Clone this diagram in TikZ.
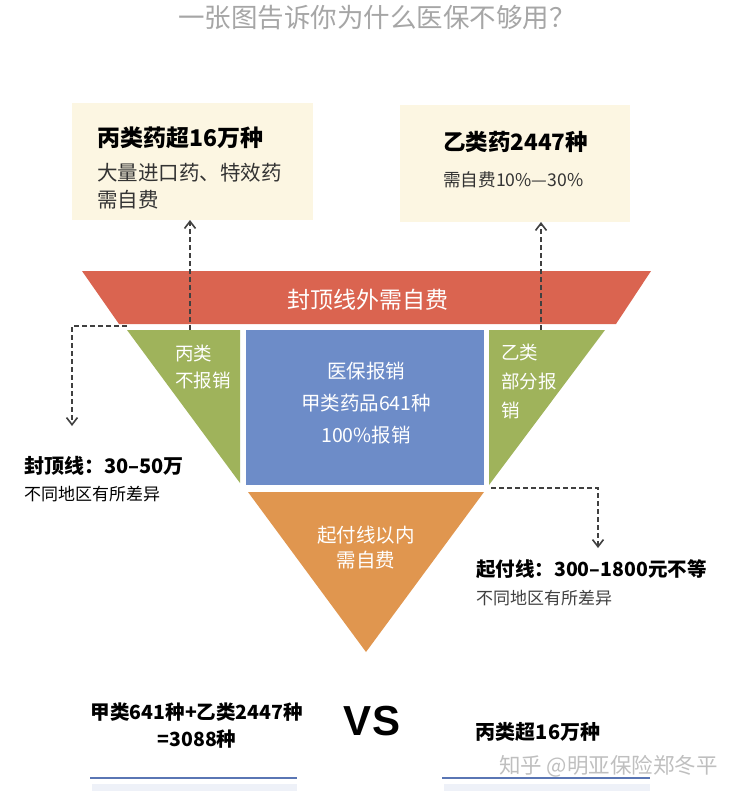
\documentclass[tikz,border=0pt]{standalone}
\usepackage{fontspec}
\setmainfont{Noto Sans CJK SC}
\newfontfamily\cjk{Noto Sans CJK SC}
\newfontfamily\vsfont{Liberation Sans}
\usetikzlibrary{arrows.meta}
\definecolor{cred}{HTML}{DA6450}
\definecolor{cgreen}{HTML}{9FB35B}
\definecolor{cblue}{HTML}{6D8CC8}
\definecolor{corange}{HTML}{E0964F}
\definecolor{cbeige}{HTML}{FCF6E2}
\definecolor{cdash}{HTML}{404040}
\definecolor{cline}{HTML}{5A76B4}
\tikzset{
  fs/.style={font=\fontsize{#1}{#1}\selectfont},
  bfs/.style={font=\bfseries\fontsize{#1}{#1}\selectfont},
  boxbg/.style={fill=cbeige, draw=none},
  wtxt/.style={text=white, inner sep=0pt},
  btxt/.style={text=black, inner sep=0pt},
  dashline/.style={draw=cdash, line width=1.8pt, dash pattern=on 5pt off 3pt, -{Straight Barb[angle=75:9pt, line width=1.6pt]}},
}
\begin{document}
\begin{tikzpicture}[x=1pt,y=-1pt]
\useasboundingbox (0,0) rectangle (736,796);
% title
\node[fs=26.5, text=black!35, inner sep=0pt] (title) at (377,18) {一张图告诉你为什么医保不够用？};
% top boxes
\fill[boxbg] (72,103) rectangle (313,220);
\coordinate (lboxb) at (190,220);
\node[btxt, anchor=west, bfs=23] (lh) at (97,138) {丙类药超16万种};
\node[fs=20.5, btxt, anchor=west, text=black!80] (l1) at (97,173) {大量进口药、特效药};
\node[fs=20.5, btxt, anchor=west, text=black!80] (l2) at (97,200) {需自费};
\fill[boxbg] (400,105) rectangle (630,222);
\coordinate (rboxb) at (541,222);
\node[btxt, anchor=west, bfs=22.5] (rh) at (443,142) {乙类药2447种};
\node[fs=17.6, btxt, anchor=west, text=black!80] (r1) at (443,180) {需自费10\%—30\%};
% red trapezoid
\fill[cred] (82,271) -- (651,271) -- (616,324) -- (119,324) -- cycle;
\node[fs=23, wtxt] (red) at (368,300) {封顶线外需自费};
% green left
\fill[cgreen] (127,330) -- (240,330) -- (240,483) -- cycle;
\node[fs=18.5, wtxt, anchor=west] (g1) at (175,353) {丙类};
\node[fs=18.5, wtxt, anchor=west] (g2) at (175,380) {不报销};
% blue rect
\fill[cblue] (246,330) rectangle (484,485);
\node[fs=19.5, wtxt] (b1) at (366,371) {医保报销};
\node[fs=19.5, wtxt] (b2) at (366,403) {甲类药品641种};
\node[fs=19.5, wtxt] (b3) at (366,435) {100\%报销};
% green right
\fill[cgreen] (489,330) -- (605,330) -- (489,485) -- cycle;
\node[fs=18.5, wtxt, anchor=west] (h1) at (501,352) {乙类};
\node[fs=18.5, wtxt, anchor=west] (h2) at (501,381) {部分报};
\node[fs=18.5, wtxt, anchor=west] (h3) at (501,410) {销};
% orange
\fill[corange] (248,492) -- (484,492) -- (366,652) -- cycle;
\node[fs=19.5, wtxt] (o1) at (366,535) {起付线以内};
\node[fs=19.5, wtxt] (o2) at (366,560) {需自费};
% dashed connectors
\coordinate (la) at (190,330);
\coordinate (ra) at (541,330);
\draw[dashline] (la) -- (lboxb);
\draw[dashline] (ra) -- (rboxb);
\coordinate (cap0) at (127,326);
\coordinate (cap1) at (72,326);
\coordinate (cap2) at (72,426);
\draw[dashline] (cap0) -- (cap1) -- (cap2);
\coordinate (st0) at (491,488);
\coordinate (st1) at (598,488);
\coordinate (st2) at (598,548);
\draw[dashline] (st0) -- (st1) -- (st2);
% side labels
\node[btxt, anchor=west, bfs=20] (cap) at (24,466) {封顶线：30–50万};
\node[fs=17, btxt, anchor=west] (capd) at (24,494) {不同地区有所差异};
\node[btxt, anchor=west, bfs=19.5] (st) at (476,569) {起付线：300–1800元不等};
\node[fs=17, btxt, anchor=west, text=black!75] (std) at (476,598) {不同地区有所差异};
% bottom
\node[btxt, bfs=19.5] (s1) at (197,712) {甲类641种+乙类2447种};
\node[btxt, bfs=19.5] (s2) at (197,739) {=3088种};
\node[btxt, font=\vsfont\bfseries\fontsize{42}{42}\selectfont] (vs) at (372,721) {VS};
\node[btxt, bfs=20] (s3) at (538,732) {丙类超16万种};
\draw[line width=7pt, draw=cline!10] (92,787) -- (297,787);
\draw[line width=7pt, draw=cline!10] (444,787) -- (650,787);
\draw[line width=2pt, draw=cline] (90,778) coordinate (ll0) -- (297,778) coordinate (ll1);
\draw[line width=2pt, draw=cline] (442,778) coordinate (rl0) -- (650,778) coordinate (rl1);
\node[fs=21.5, text=black!25, anchor=west, inner sep=0pt] (wm) at (499,766) {知乎 @明亚保险郑冬平};
\end{tikzpicture}
\end{document}
